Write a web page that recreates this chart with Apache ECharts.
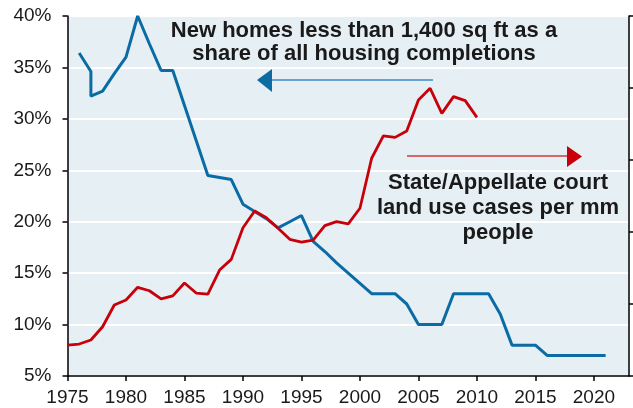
<!DOCTYPE html>
<html>
<head>
<meta charset="utf-8">
<script src="https://cdn.jsdelivr.net/npm/echarts@6/dist/echarts.min.js"></script>
<style>
  html, body { margin: 0; padding: 0; background: #fff; }
  #chart { width: 633px; height: 408px; }
</style>
</head>
<body>
<div id="chart"></div>
<script>
// share of small new homes (%), [year, value]
var smallHomeYears = [1976, 1977, 1977, 1978, 1979, 1980, 1981, 1982, 1983, 1984, 1985, 1986, 1987, 1988, 1989,
    1990, 1991, 1992, 1993, 1994, 1995, 1996, 1997, 1998, 1999, 2000, 2001, 2002, 2003, 2004, 2005, 2006, 2007,
    2008, 2009, 2010, 2011, 2012, 2013, 2014, 2015, 2016, 2017, 2018, 2019, 2020, 2021];
var smallHomeShare = [36.4, 34.6, 32.2, 32.7, 34.4, 36.0, 40.0, 37.3, 34.7, 34.7, 31.3, 27.9, 24.5, 24.3, 24.1,
    21.7, 21.0, 20.3, 19.4, 20.0, 20.6, 18.1, 17.1, 16.0, 15.0, 14.0, 13.0, 13.0, 13.0, 12.0, 10.0, 10.0, 10.0,
    13.0, 13.0, 13.0, 13.0, 11.0, 8.0, 8.0, 8.0, 7.0, 7.0, 7.0, 7.0, 7.0, 7.0];

// land use court cases per mm people (right axis)
var caseYears = [1975, 1976, 1977, 1978, 1979, 1980, 1981, 1982, 1983, 1984, 1985, 1986, 1987, 1988, 1989,
    1990, 1991, 1992, 1993, 1994, 1995, 1996, 1997, 1998, 1999, 2000, 2001, 2002, 2003, 2004, 2005, 2006,
    2007, 2008, 2009, 2010];
var casesPerMm = [0.215, 0.222, 0.25, 0.342, 0.493, 0.528, 0.616, 0.592, 0.535, 0.556, 0.646, 0.576, 0.569,
    0.736, 0.81, 1.03, 1.146, 1.099, 1.026, 0.949, 0.93, 0.944, 1.044, 1.072, 1.056, 1.165, 1.512, 1.667,
    1.657, 1.701, 1.917, 1.998, 1.824, 1.94, 1.912, 1.796];

function pairs(xs, ys) {
    var out = [];
    for (var i = 0; i < xs.length; i++) out.push([xs[i], ys[i]]);
    return out;
}

var chart = echarts.init(document.getElementById('chart'));
var fontName = '"Liberation Sans", Arial, sans-serif';
var txtFont = 'bold 22px ' + fontName;

chart.setOption({
    animation: false,
    grid: {
        left: 67.5, right: 4, top: 16, bottom: 32,
        show: true, backgroundColor: '#e6eff3', borderWidth: 0
    },
    xAxis: {
        type: 'value', min: 1975, max: 2023, interval: 5,
        axisLine: { lineStyle: { color: '#000', width: 1.5 } },
        axisTick: { show: true, length: 5, lineStyle: { color: '#000', width: 1.5 } },
        axisLabel: {
            color: '#1a1a1a', fontSize: 19, fontFamily: fontName,
            margin: 12, showMaxLabel: false,
            formatter: function (v) { return String(v); }
        },
        splitLine: { show: false }
    },
    yAxis: [{
        type: 'value', min: 5, max: 40, interval: 5,
        axisLine: { show: true, lineStyle: { color: '#000', width: 1.5 } },
        axisTick: { show: true, length: 5, lineStyle: { color: '#000', width: 1.5 } },
        axisLabel: {
            color: '#1a1a1a', fontSize: 19, fontFamily: fontName,
            formatter: '{value}%', margin: 16
        },
        splitLine: { show: true, lineStyle: { color: '#fff', width: 2 } }
    }, {
        type: 'value', min: 0, max: 2.5, interval: 0.5, position: 'right',
        axisLine: { show: true, lineStyle: { color: '#000', width: 1.5 } },
        axisTick: { show: true, length: 5, lineStyle: { color: '#000', width: 1.5 } },
        axisLabel: { show: false },
        splitLine: { show: false }
    }],
    series: [{
        name: 'small homes',
        type: 'line',
        yAxisIndex: 0,
        showSymbol: false,
        lineStyle: { color: '#0b6ca5', width: 3 },
        data: pairs(smallHomeYears, smallHomeShare)
    }, {
        name: 'court cases',
        type: 'line',
        yAxisIndex: 1,
        showSymbol: false,
        lineStyle: { color: '#c8000a', width: 2.8 },
        data: pairs(caseYears, casesPerMm)
    }],
    graphic: [
        {
            type: 'text', x: 364, y: 42,
            style: {
                text: 'New homes less than 1,400 sq ft as a\nshare of all housing completions',
                font: txtFont, fill: '#1a1a1a', align: 'center', verticalAlign: 'middle', lineHeight: 23
            }
        },
        {
            type: 'line',
            shape: { x1: 270, y1: 80, x2: 433, y2: 80 },
            style: { stroke: '#3c8cc4', lineWidth: 1.5 }
        },
        {
            type: 'polygon',
            shape: { points: [[257, 80], [272, 69], [272, 92]] },
            style: { fill: '#0e6aa3' }
        },
        {
            type: 'line',
            shape: { x1: 407, y1: 156, x2: 568, y2: 156 },
            style: { stroke: '#d23a3a', lineWidth: 1.5 }
        },
        {
            type: 'polygon',
            shape: { points: [[582, 156.5], [567, 146], [567, 167]] },
            style: { fill: '#c8000a' }
        },
        {
            type: 'text', x: 498, y: 208,
            style: {
                text: 'State/Appellate court\nland use cases per mm\npeople',
                font: txtFont, fill: '#1a1a1a', align: 'center', verticalAlign: 'middle', lineHeight: 25
            }
        }
    ]
});
</script>
</body>
</html>
